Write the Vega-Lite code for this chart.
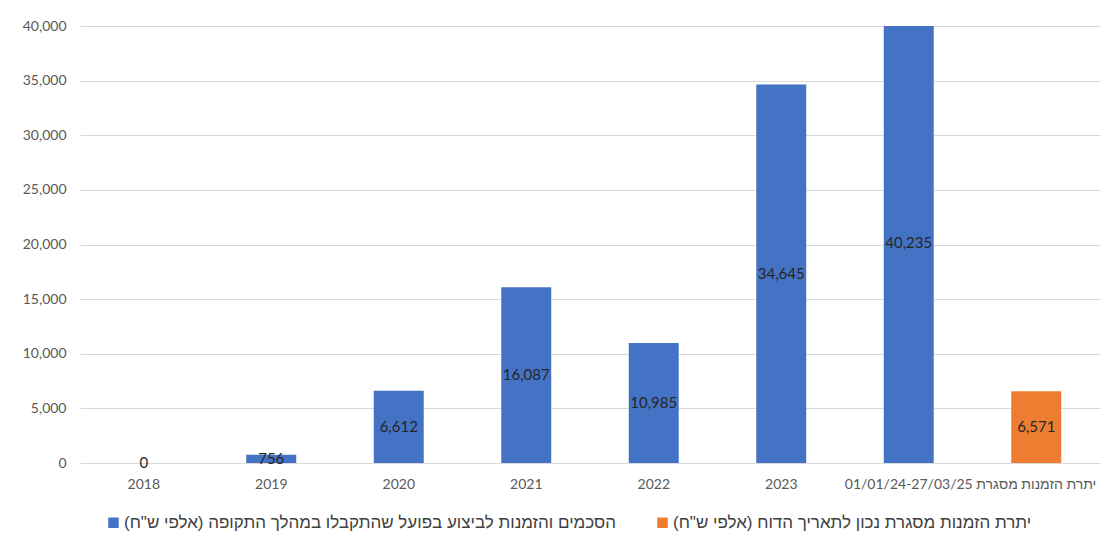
{
  "$schema": "https://vega.github.io/schema/vega-lite/v6.json",
  "width": 1020,
  "height": 437,
  "autosize": {"type": "none"},
  "padding": {"left": 80, "top": 26, "right": 7, "bottom": 79},
  "background": "white",
  "config": {
    "view": {"stroke": null},
    "font": "Lato, Liberation Sans, sans-serif"
  },
  "data": {
    "values": [
      {"period": "2018", "value": 0, "series": "הסכמים והזמנות לביצוע בפועל שהתקבלו במהלך התקופה (אלפי ש\"ח)"},
      {"period": "2019", "value": 756, "series": "הסכמים והזמנות לביצוע בפועל שהתקבלו במהלך התקופה (אלפי ש\"ח)"},
      {"period": "2020", "value": 6612, "series": "הסכמים והזמנות לביצוע בפועל שהתקבלו במהלך התקופה (אלפי ש\"ח)"},
      {"period": "2021", "value": 16087, "series": "הסכמים והזמנות לביצוע בפועל שהתקבלו במהלך התקופה (אלפי ש\"ח)"},
      {"period": "2022", "value": 10985, "series": "הסכמים והזמנות לביצוע בפועל שהתקבלו במהלך התקופה (אלפי ש\"ח)"},
      {"period": "2023", "value": 34645, "series": "הסכמים והזמנות לביצוע בפועל שהתקבלו במהלך התקופה (אלפי ש\"ח)"},
      {"period": "01/01/24-27/03/25", "value": 40235, "series": "הסכמים והזמנות לביצוע בפועל שהתקבלו במהלך התקופה (אלפי ש\"ח)"},
      {"period": "יתרת הזמנות מסגרת", "value": 6571, "series": "יתרת הזמנות מסגרת נכון לתאריך הדוח (אלפי ש\"ח)"}
    ]
  },
  "transform": [{"calculate": "datum.value / 2", "as": "mid"}],
  "encoding": {
    "x": {
      "field": "period",
      "type": "nominal",
      "sort": null,
      "title": null,
      "scale": {"paddingInner": 0.608, "paddingOuter": 0.304},
      "axis": {
        "labelAngle": 0,
        "labelFontSize": 14,
        "labelColor": "#595959",
        "labelPadding": 14,
        "ticks": false,
        "domainColor": "#d9d9d9",
        "domainWidth": 1
      }
    }
  },
  "layer": [
    {
      "mark": {"type": "bar", "clip": true},
      "encoding": {
        "y": {
          "field": "value",
          "type": "quantitative",
          "title": null,
          "scale": {"domain": [0, 40000], "nice": false},
          "axis": {
            "values": [0, 5000, 10000, 15000, 20000, 25000, 30000, 35000, 40000],
            "format": ",d",
            "domain": false,
            "ticks": false,
            "labelFontSize": 14,
            "labelColor": "#595959",
            "labelPadding": 14,
            "gridColor": "#d9d9d9",
            "gridWidth": 1
          }
        },
        "color": {
          "field": "series",
          "type": "nominal",
          "scale": {
            "domain": [
              "הסכמים והזמנות לביצוע בפועל שהתקבלו במהלך התקופה (אלפי ש\"ח)",
              "יתרת הזמנות מסגרת נכון לתאריך הדוח (אלפי ש\"ח)"
            ],
            "range": ["#4472C4", "#ED7D31"]
          },
          "legend": {
            "title": null,
            "orient": "bottom",
            "direction": "horizontal",
            "offset": -2,
            "padding": 25,
            "symbolType": "square",
            "symbolSize": 110,
            "symbolStrokeWidth": 0,
            "labelFont": "Liberation Sans, DejaVu Sans, sans-serif",
            "labelFontSize": 17,
            "labelColor": "#404040",
            "labelLimit": 0,
            "labelOffset": 2,
            "columnPadding": 38,
            "labelExpr": "'\u200f' + datum.label + '\u200f'"
          }
        }
      }
    },
    {
      "mark": {"type": "text", "fontSize": 15, "color": "#262626", "baseline": "middle"},
      "encoding": {
        "y": {"field": "mid", "type": "quantitative"},
        "text": {"field": "value", "type": "quantitative", "format": ",d"}
      }
    }
  ]
}
